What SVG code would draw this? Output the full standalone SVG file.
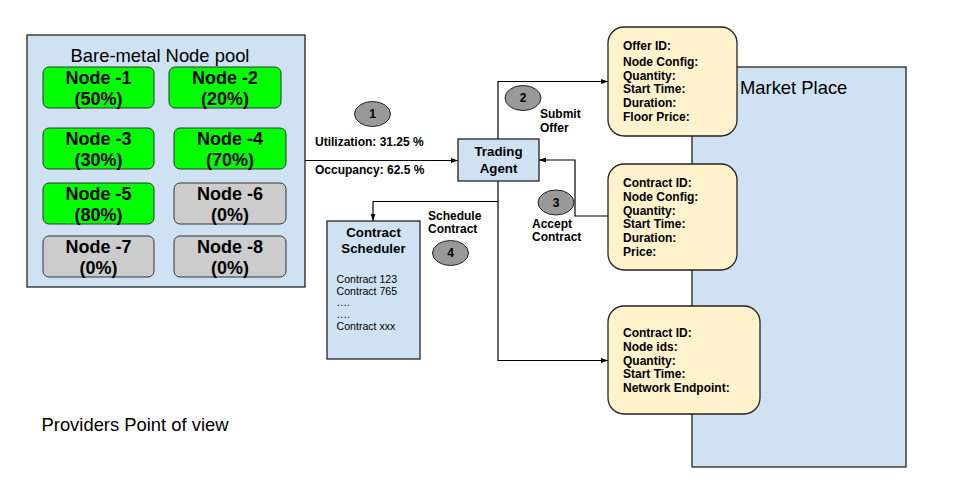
<svg xmlns="http://www.w3.org/2000/svg" width="956" height="487" viewBox="0 0 956 487">
<defs>
<marker id="ah" markerWidth="8" markerHeight="8" refX="7" refY="4" orient="auto" markerUnits="userSpaceOnUse">
<path d="M0,1.5 L7,4 L0,6.5 Z" fill="#000"/>
</marker>
<style>
text{font-family:"Liberation Sans",Arial,sans-serif;fill:#000}
.blue{fill:#cfe2f3;stroke:#222;stroke-width:1.3}
.green{fill:#00ff00;stroke:#333;stroke-width:1}
.gray{fill:#cccccc;stroke:#333;stroke-width:1}
.yel{fill:#fff2cc;stroke:#222;stroke-width:1.3}
.circ{fill:#999999;stroke:#222;stroke-width:1}
.nl{font-size:18px;font-weight:bold;text-anchor:middle}
.b12{font-size:12px;font-weight:bold}
.b13{font-size:13.3px;font-weight:bold;text-anchor:middle}
.r18{font-size:18.4px}
.r10{font-size:10.6px}
.num{font-size:12px;font-weight:bold;text-anchor:middle}
.con{fill:none;stroke:#000;stroke-width:1.2}
</style>
</defs>
<rect width="956" height="487" fill="#fff"/>

<g id="pool">
<rect class="blue" x="27" y="35" width="278" height="252"/>
<text class="r18" x="160" y="62" text-anchor="middle">Bare-metal Node pool</text>
</g>
<g id="node1"><rect class="green" x="43" y="67" width="111" height="41" rx="6"/><text class="nl" x="98.5" y="84">Node -1</text><text class="nl" x="98.5" y="105">(50%)</text></g>
<g id="node2"><rect class="green" x="169" y="67" width="112" height="41" rx="6"/><text class="nl" x="225" y="84">Node -2</text><text class="nl" x="225" y="105">(20%)</text></g>
<g id="node3"><rect class="green" x="43" y="128" width="111" height="41" rx="6"/><text class="nl" x="98.5" y="145">Node -3</text><text class="nl" x="98.5" y="166">(30%)</text></g>
<g id="node4"><rect class="green" x="174" y="128" width="112" height="41" rx="6"/><text class="nl" x="230" y="145">Node -4</text><text class="nl" x="230" y="166">(70%)</text></g>
<g id="node5"><rect class="green" x="43" y="183" width="111" height="41" rx="6"/><text class="nl" x="98.5" y="200">Node -5</text><text class="nl" x="98.5" y="221">(80%)</text></g>
<g id="node6"><rect class="gray" x="174" y="183" width="112" height="41" rx="6"/><text class="nl" x="230" y="200">Node -6</text><text class="nl" x="230" y="221">(0%)</text></g>
<g id="node7"><rect class="gray" x="43" y="236" width="111" height="41" rx="6"/><text class="nl" x="98.5" y="253">Node -7</text><text class="nl" x="98.5" y="274">(0%)</text></g>
<g id="node8"><rect class="gray" x="174" y="236" width="112" height="41" rx="6"/><text class="nl" x="230" y="253">Node -8</text><text class="nl" x="230" y="274">(0%)</text></g>

<g id="marketplace">
<rect class="blue" x="692" y="67" width="214" height="400"/>
<text class="r18" x="740" y="94">Market Place</text>
</g>

<g id="connectors">
<line class="con" x1="305" y1="160.5" x2="458" y2="160.5" marker-end="url(#ah)"/>
<polyline class="con" points="498,139 498,81.5 608,81.5" marker-end="url(#ah)"/>
<polyline class="con" points="608,216 575,216 575,160 539,160" marker-end="url(#ah)"/>
<polyline class="con" points="498,181 498,360.5 608,360.5" marker-end="url(#ah)"/>
<polyline class="con" points="498,201.5 373,201.5 373,220.7" marker-end="url(#ah)"/>
</g>

<g id="agent">
<rect class="blue" x="458" y="139" width="81" height="42"/>
<text class="b13" x="498.5" y="156">Trading</text>
<text class="b13" x="498.5" y="172.5">Agent</text>
</g>

<g id="scheduler">
<rect class="blue" x="327" y="221" width="93" height="138"/>
<text class="b13" x="373.5" y="237">Contract</text>
<text class="b13" x="373.5" y="253">Scheduler</text>
<text class="r10" x="336.5" y="282.5">Contract 123</text>
<text class="r10" x="336.5" y="294.5">Contract 765</text>
<text class="r10" x="336.5" y="306">….</text>
<text class="r10" x="336.5" y="318">….</text>
<text class="r10" x="336.5" y="330">Contract xxx</text>
</g>

<g id="offer">
<rect class="yel" x="608" y="27" width="129" height="109" rx="16"/>
<text class="b12" x="623" y="50">Offer ID:</text>
<text class="b12" x="623" y="65.7">Node Config:</text>
<text class="b12" x="623" y="79.5">Quantity:</text>
<text class="b12" x="623" y="93.3">Start Time:</text>
<text class="b12" x="623" y="107">Duration:</text>
<text class="b12" x="623" y="121">Floor Price:</text>
</g>

<g id="contract">
<rect class="yel" x="608" y="164" width="129" height="106" rx="16"/>
<text class="b12" x="623" y="186.7">Contract ID:</text>
<text class="b12" x="623" y="200.5">Node Config:</text>
<text class="b12" x="623" y="214.5">Quantity:</text>
<text class="b12" x="623" y="228.2">Start Time:</text>
<text class="b12" x="623" y="242">Duration:</text>
<text class="b12" x="623" y="256">Price:</text>
</g>

<g id="deployed">
<rect class="yel" x="608" y="306" width="152" height="108" rx="16"/>
<text class="b12" x="623" y="336.7">Contract ID:</text>
<text class="b12" x="623" y="350.5">Node ids:</text>
<text class="b12" x="623" y="364.5">Quantity:</text>
<text class="b12" x="623" y="378.2">Start Time:</text>
<text class="b12" x="623" y="392">Network Endpoint:</text>
</g>

<g id="step1">
<ellipse class="circ" cx="372.5" cy="114" rx="18" ry="12.5"/>
<text class="num" x="372.5" y="118.2">1</text>
<text class="b12" x="315" y="146">Utilization: 31.25 %</text>
<text class="b12" x="315" y="173.5">Occupancy: 62.5 %</text>
</g>
<g id="step2">
<ellipse class="circ" cx="523" cy="98" rx="18" ry="12.5"/>
<text class="num" x="523" y="102.2">2</text>
<text class="b12" x="540" y="117.5">Submit</text>
<text class="b12" x="540" y="131.5">Offer</text>
</g>
<g id="step3">
<ellipse class="circ" cx="556" cy="202.5" rx="18" ry="12.5"/>
<text class="num" x="556" y="206.7">3</text>
<text class="b12" x="532" y="227.5">Accept</text>
<text class="b12" x="532" y="241">Contract</text>
</g>
<g id="step4">
<ellipse class="circ" cx="450.5" cy="253" rx="18" ry="12.5"/>
<text class="num" x="450.5" y="257.2">4</text>
<text class="b12" x="428" y="219.5">Schedule</text>
<text class="b12" x="428" y="233">Contract</text>
</g>

<text class="r18" x="41.5" y="431">Providers Point of view</text>
</svg>
